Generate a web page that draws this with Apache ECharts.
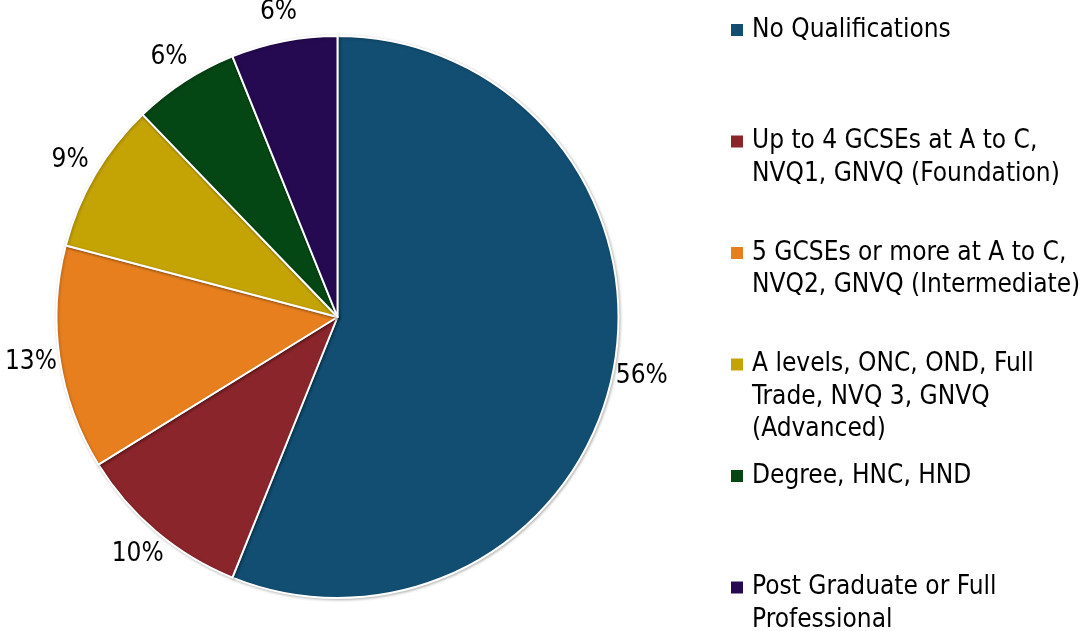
<!DOCTYPE html>
<html>
<head>
<meta charset="utf-8">
<script src="https://cdn.jsdelivr.net/npm/echarts@6/dist/echarts.min.js"></script>
<style>
html,body{margin:0;padding:0;background:#fff;}
#chart{width:1083px;height:631px;}
</style>
</head>
<body>
<div id="chart"></div>
<script>
const categories = [
  'No Qualifications',
  'Up to 4 GCSEs at A to C, NVQ1, GNVQ (Foundation)',
  '5 GCSEs or more at A to C, NVQ2, GNVQ (Intermediate)',
  'A levels, ONC, OND, Full Trade, NVQ 3, GNVQ (Advanced)',
  'Degree, HNC, HND',
  'Post Graduate or Full Professional'
];
const values = [56.1, 10.1, 12.9, 8.7, 6.1, 6.1];
const colors = ['#124E72', '#89252B', '#E77F1F', '#C4A305', '#054615', '#250A52'];
const legendLines = [
  ['No Qualifications'],
  ['Up to 4 GCSEs at A to C,', 'NVQ1, GNVQ (Foundation)'],
  ['5 GCSEs or more at A to C,', 'NVQ2, GNVQ (Intermediate)'],
  ['A levels, ONC, OND, Full', 'Trade, NVQ 3, GNVQ', '(Advanced)'],
  ['Degree, HNC, HND'],
  ['Post Graduate or Full', 'Professional']
];

const FONT = "'DejaVu Sans Condensed', 'Liberation Sans', sans-serif";
const LH = 32.3;
const SQ = 12;
const IW = 16;
const data = categories.map((c, i) => ({ name: c, value: values[i], itemStyle: { color: colors[i] } }));

const legends = categories.map((name, i) => {
  const n = legendLines[i].length;
  const H = SQ + (n - 1) * LH;
  const firstY = 30 + 111.5 * i;
  return {
    orient: 'vertical',
    left: 731,
    top: firstY - LH / 2,
    padding: 0,
    itemWidth: IW,
    itemHeight: H,
    icon: 'path://M0,0H' + SQ + 'V' + SQ + 'H0Z M' + IW + ',' + H + 'L' + IW + ',' + H,
    itemStyle: { borderWidth: 0 },
    selectedMode: false,
    formatter: nm => legendLines[categories.indexOf(nm)].join('\n'),
    textStyle: { fontSize: 26, lineHeight: LH, fontFamily: FONT, color: '#000' },
    data: [name]
  };
});

const chart = echarts.init(document.getElementById('chart'), null, { renderer: 'canvas' });
chart.setOption({
  backgroundColor: '#fff',
  animation: false,
  legend: legends,
  series: [
    {
      type: 'pie',
      center: [337.5, 317],
      radius: 281,
      startAngle: 90,
      clockwise: true,
      silent: true,
      percentPrecision: 0,
      itemStyle: { borderColor: '#fff', borderWidth: 2, shadowBlur: 3, shadowColor: 'rgba(0,0,0,0.25)', shadowOffsetX: 1, shadowOffsetY: 1 },
      label: { show: false },
      labelLine: { show: false },
      emphasis: { disabled: true },
      data: data
    },
    {
      type: 'pie',
      center: [337.5, 317],
      radius: 614,
      startAngle: 90,
      clockwise: true,
      silent: true,
      percentPrecision: 0,
      itemStyle: { color: 'rgba(0,0,0,0)', borderWidth: 0 },
      label: {
        show: true,
        position: 'inside',
        formatter: '{d}%',
        fontSize: 26,
        fontFamily: FONT,
        color: '#000'
      },
      labelLine: { show: false },
      emphasis: { disabled: true },
      data: categories.map((c, i) => ({ name: c, value: values[i] }))
    }
  ]
});
</script>
</body>
</html>
